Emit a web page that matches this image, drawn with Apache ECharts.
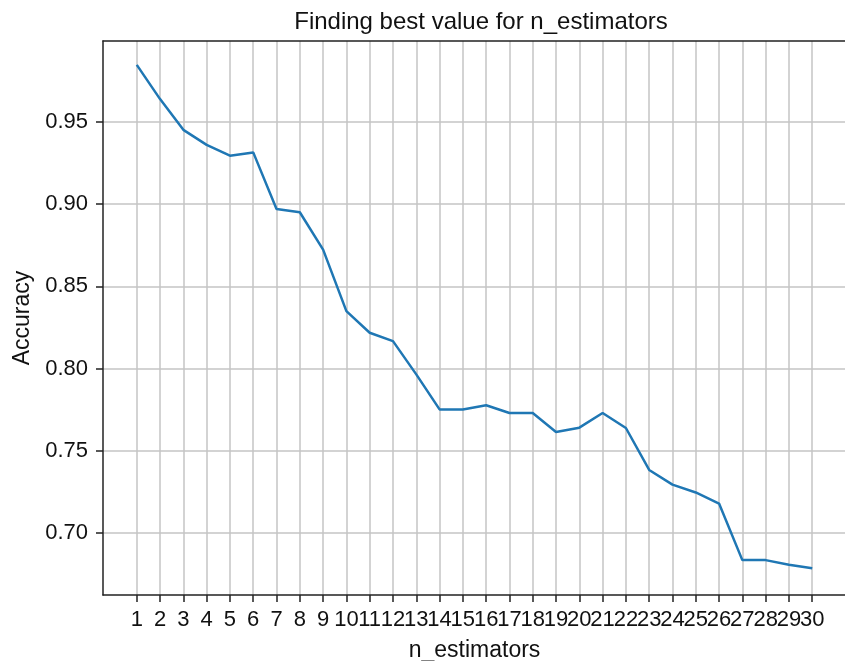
<!DOCTYPE html>
<html>
<head>
<meta charset="utf-8">
<script src="https://cdn.jsdelivr.net/npm/echarts@6/dist/echarts.min.js"></script>
<style>
    html, body { margin: 0; padding: 0; background: #fff; }
    #main { width: 845px; height: 661px; }
</style>
</head>
<body>
<div id="main"></div>
<script>
// values
let nEstimators = [1, 2, 3, 4, 5, 6, 7, 8, 9, 10, 11, 12, 13, 14, 15,
    16, 17, 18, 19, 20, 21, 22, 23, 24, 25, 26, 27, 28, 29, 30];
let accuracy = [0.9846, 0.9638, 0.9451, 0.9360, 0.9294, 0.9314, 0.8970, 0.8950, 0.8723, 0.8349,
    0.8218, 0.8167, 0.7965, 0.7752, 0.7752, 0.7777, 0.7730, 0.7730, 0.7615, 0.7641,
    0.7730, 0.7639, 0.7384, 0.7295, 0.7247, 0.7180, 0.6836, 0.6836, 0.6808, 0.6786];
let yTicks = [0.70, 0.75, 0.80, 0.85, 0.90, 0.95];

let font = 'Liberation Sans, Arial, sans-serif';

window.onload = function() {
    let chart = echarts.init(document.getElementById('main'));
    let points = nEstimators.map((n, i) => [n, accuracy[i]]);
    // tick labels touch each other, so odd and even ones sit on two overlaid axes
    // (otherwise echarts drops the last one as overlapping)
    let oddTicks = nEstimators.filter(n => n % 2 == 1);
    let evenTicks = nEstimators.filter(n => n % 2 == 0);

    let labelStyle = { fontFamily: font, fontSize: 22, color: '#111', margin: 14, hideOverlap: false };

    let option = {
        animation: false,
        backgroundColor: '#fff',
        title: {
            text: 'Finding best value for n_estimators',
            left: 476,
            top: 5,
            textAlign: 'center',
            textStyle: { fontFamily: font, fontSize: 24, fontWeight: 'normal', color: '#111' }
        },
        grid: { left: 103, top: 41, right: -1, bottom: 66, outerBoundsMode: 'none' },
        xAxis: [{
            type: 'value',
            min: -0.45,
            max: 31.45,
            name: 'n_estimators',
            nameLocation: 'middle',
            nameGap: 44,
            nameTextStyle: { fontFamily: font, fontSize: 23, color: '#111' },
            axisLine: { show: true, onZero: false, lineStyle: { color: '#222', width: 1.5 } },
            axisTick: { show: true, length: 7, customValues: nEstimators, lineStyle: { color: '#222', width: 1.5 } },
            axisLabel: Object.assign({ customValues: oddTicks }, labelStyle),
            splitLine: { show: true, lineStyle: { color: '#c4c4c4', width: 1.5 } }
        }, {
            type: 'value',
            position: 'bottom',
            offset: 0,
            min: -0.45,
            max: 31.45,
            axisLine: { show: false, onZero: false },
            axisTick: { show: false },
            axisLabel: Object.assign({ customValues: evenTicks }, labelStyle),
            splitLine: { show: false }
        }, {
            type: 'value',
            position: 'top',
            min: -0.45,
            max: 31.45,
            axisLine: { show: true, onZero: false, lineStyle: { color: '#222', width: 1.5 } },
            axisTick: { show: false },
            axisLabel: { show: false },
            splitLine: { show: false }
        }],
        yAxis: {
            type: 'value',
            min: 0.6624,
            max: 0.9991,
            name: 'Accuracy',
            nameLocation: 'middle',
            nameGap: 68,
            nameTextStyle: { fontFamily: font, fontSize: 23, color: '#111' },
            axisLine: { show: true, onZero: false, lineStyle: { color: '#222', width: 1.5 } },
            axisTick: { show: true, length: 7, customValues: yTicks, lineStyle: { color: '#222', width: 1.5 } },
            axisLabel: {
                customValues: yTicks,
                fontFamily: font, fontSize: 22, color: '#111', margin: 15,
                formatter: v => v.toFixed(2)
            },
            splitLine: { show: true, lineStyle: { color: '#c4c4c4', width: 1.5 } }
        },
        series: [{
            type: 'line',
            data: points,
            showSymbol: false,
            lineStyle: { color: '#1f77b4', width: 2.5 },
            itemStyle: { color: '#1f77b4' }
        }]
    };

    chart.setOption(option);
};
</script>
</body>
</html>
